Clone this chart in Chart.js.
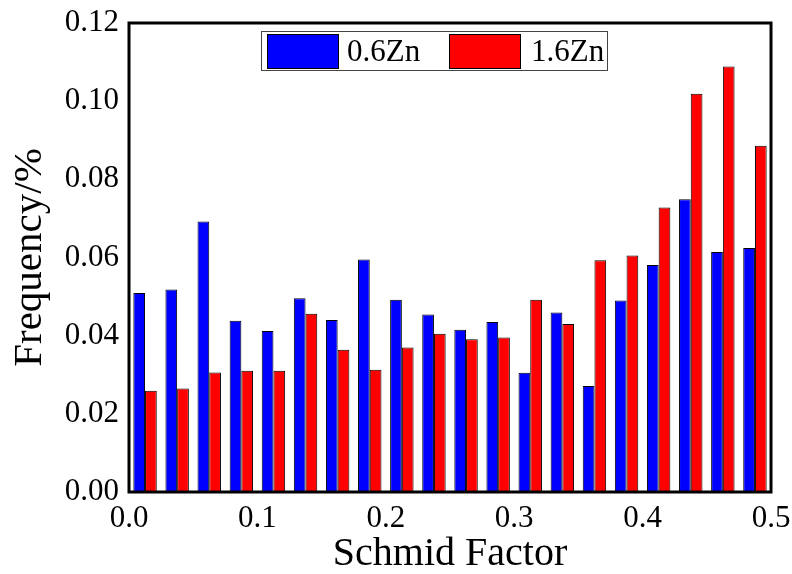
<!DOCTYPE html>
<html>
<head>
<meta charset="utf-8">
<script src="https://cdn.jsdelivr.net/npm/chart.js@4.4.1/dist/chart.umd.min.js"></script>
<style>
  html, body { margin: 0; padding: 0; background: #ffffff; }
  canvas { display: block; }
</style>
</head>
<body>
<canvas id="c" width="792" height="574"></canvas>
<script>
// Bin centres of Schmid factor (bin width 0.025)
const categories = ['0.0125','0.0375','0.0625','0.0875','0.1125','0.1375','0.1625','0.1875','0.2125','0.2375',
                    '0.2625','0.2875','0.3125','0.3375','0.3625','0.3875','0.4125','0.4375','0.4625','0.4875'];
const seriesNames = ['0.6Zn', '1.6Zn'];
const zn06 = [0.0509, 0.0518, 0.0692, 0.0438, 0.0412, 0.0496, 0.0440, 0.0595, 0.0492, 0.0454,
              0.0415, 0.0435, 0.0305, 0.0459, 0.0271, 0.0490, 0.0581, 0.0749, 0.0614, 0.0624];
const zn16 = [0.0259, 0.0265, 0.0306, 0.0310, 0.0310, 0.0456, 0.0364, 0.0313, 0.0370, 0.0405,
              0.0391, 0.0395, 0.0492, 0.0430, 0.0593, 0.0605, 0.0728, 0.1019, 0.1089, 0.0886];
const xTickValues = [0.0, 0.1, 0.2, 0.3, 0.4, 0.5];
const xTickLabels = ['0.0', '0.1', '0.2', '0.3', '0.4', '0.5'];
const yTickValues = [0.00, 0.02, 0.04, 0.06, 0.08, 0.10, 0.12];
const yTickLabels = ['0.00', '0.02', '0.04', '0.06', '0.08', '0.10', '0.12'];

const FONT = '"Liberation Serif", "Times New Roman", serif';

const framePlugin = {
  id: 'frame',
  afterDatasetsDraw(chart) {
    const {ctx, chartArea: a} = chart;
    ctx.save();
    ctx.strokeStyle = '#000';
    ctx.lineWidth = 3;
    ctx.strokeRect(a.left, a.top, a.right - a.left, a.bottom - a.top);
    ctx.restore();
  }
};

const legendPlugin = {
  id: 'boxLegend',
  afterDraw(chart) {
    const ctx = chart.ctx;
    ctx.save();
    ctx.fillStyle = '#fff';
    ctx.fillRect(261, 31, 347, 40);
    ctx.strokeStyle = '#444';
    ctx.lineWidth = 1;
    ctx.strokeRect(261.5, 31.5, 346, 39);
    const items = [{x: 267, tx: 347}, {x: 449, tx: 531}];
    chart.data.datasets.forEach((ds, i) => {
      const it = items[i];
      ctx.fillStyle = ds.backgroundColor;
      ctx.fillRect(it.x, 34, 72, 35);
      ctx.strokeStyle = '#000';
      ctx.lineWidth = 1;
      ctx.strokeRect(it.x + 0.5, 34.5, 71, 34);
      ctx.fillStyle = '#000';
      ctx.font = '31px ' + FONT;
      ctx.textAlign = 'left';
      ctx.textBaseline = 'middle';
      ctx.fillText(ds.label, it.tx, 53);
    });
    ctx.restore();
  }
};

new Chart(document.getElementById('c'), {
  type: 'bar',
  data: {
    labels: categories,
    datasets: [
      { label: seriesNames[0], data: zn06, backgroundColor: '#0000ff', borderColor: '#000', borderWidth: 1,
        borderSkipped: 'start', categoryPercentage: 0.73, barPercentage: 1.0 },
      { label: seriesNames[1], data: zn16, backgroundColor: '#ff0000', borderColor: '#000', borderWidth: 1,
        borderSkipped: 'start', categoryPercentage: 0.73, barPercentage: 1.0 }
    ]
  },
  options: {
    responsive: false,
    animation: false,
    layout: { padding: { top: 23, right: 21, left: 0, bottom: 0 } },
    plugins: { legend: { display: false }, tooltip: { enabled: false } },
    scales: {
      x: { type: 'category', display: false, offset: true, grid: { display: false } },
      x2: {
        type: 'linear', position: 'bottom', min: 0, max: 0.5, offset: false,
        grid: { display: false, drawTicks: false, offset: false },
        border: { display: false },
        afterBuildTicks(scale) { scale.ticks = xTickValues.map(v => ({ value: v })); },
        afterFit(scale) { scale.height = 82; scale.paddingLeft = 0; scale.paddingRight = 0; },
        ticks: {
          padding: 8, color: '#000', maxRotation: 0, autoSkip: false,
          font: { family: FONT, size: 31, lineHeight: 1.2 },
          callback: (v) => { const i = xTickValues.findIndex(t => Math.abs(t - v) < 1e-9); return i >= 0 ? xTickLabels[i] : ''; }
        },
        title: { display: true, text: 'Schmid Factor', color: '#000', padding: { top: 0, bottom: 0 },
                 font: { family: FONT, size: 40, lineHeight: 1.0 } }
      },
      y: {
        min: 0, max: 0.12,
        grid: { display: false, drawTicks: false },
        border: { display: false },
        afterBuildTicks(scale) { scale.ticks = yTickValues.map(v => ({ value: v })); },
        afterFit(scale) { scale.width = 129; scale.paddingTop = 0; scale.paddingBottom = 0; },
        ticks: {
          padding: 10, color: '#000', autoSkip: false,
          font: { family: FONT, size: 31, lineHeight: 1.2 },
          callback: (v) => { const i = yTickValues.findIndex(t => Math.abs(t - v) < 1e-9); return i >= 0 ? yTickLabels[i] : ''; }
        },
        title: { display: true, text: 'Frequency/%', color: '#000', padding: { top: 10, bottom: 0 },
                 font: { family: FONT, size: 41, lineHeight: 1.0 } }
      }
    }
  },
  plugins: [framePlugin, legendPlugin]
});
</script>
</body>
</html>
